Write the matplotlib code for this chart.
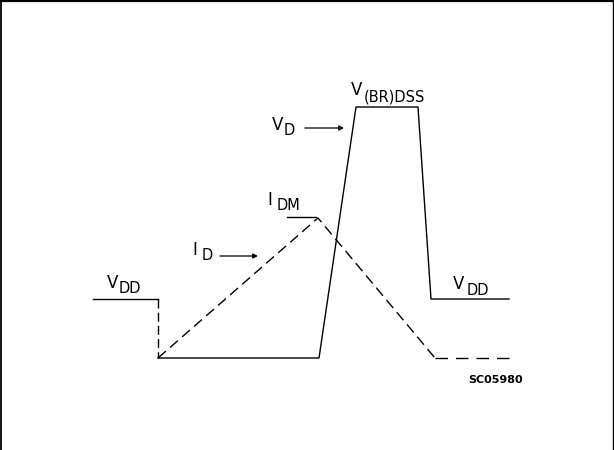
import matplotlib
matplotlib.use("Agg")
from matplotlib import pyplot as plt

# waveform corner points, in pixel units of the drawing (y grows downward)
vd_pre_x = [93, 158]
vd_pre_y = [299, 299]
vd_drop_x = [158, 158]
vd_drop_y = [299, 358]
vd_x = [158, 319, 356, 418, 431, 509]
vd_y = [358, 358, 107, 107, 299, 299]

id_x = [158, 318, 435]
id_y = [358, 218, 358]
id_tail_x = [435, 509]
id_tail_y = [358, 358]

idm_x = [287, 316]
idm_y = [217, 217]

# label arrows (start x, end x, y)
arrow_vd = (305, 344, 128)
arrow_id = (220, 258, 256)

# labels: main letter, subscript, x, baseline y, subscript x, subscript baseline
labels = [
    ("V", "DD", 107, 288, 119, 293),
    ("I", "D", 192, 255, 202, 260),
    ("I", "DM", 267, 205, 277, 210),
    ("V", "D", 272, 130, 284, 135),
    ("V", "(BR)DSS", 351, 95, 364, 102),
    ("V", "DD", 453, 289, 467, 295),
]
code_text = "SC05980"

plt.rcParams['font.family'] = ['DejaVu Sans']

fig = plt.figure(figsize=(6.14, 4.5), dpi=100)
ax = fig.add_axes([0, 0, 1, 1])
ax.set_xlim(0, 614)
ax.set_ylim(450, 0)
ax.axis("off")

# frame (top, left, right)
ax.plot([0, 613], [1.2, 1.2], color="black", lw=1.6)
ax.plot([0.8, 0.8], [0, 450], color="black", lw=1.3)
ax.plot([612.5, 612.5], [0, 450], color="black", lw=1.0)

ax.plot(vd_pre_x, vd_pre_y, color="black", lw=1.0)
ax.plot(vd_drop_x, vd_drop_y, color="black", lw=1.0, dashes=(6.5, 3))
ax.plot(vd_x, vd_y, color="black", lw=1.0)
ax.plot(id_x, id_y, color="black", lw=1.0, dashes=(7.5, 4))
ax.plot(id_tail_x, id_tail_y, color="black", lw=1.0, dashes=(9, 5.75))
ax.plot(idm_x, idm_y, color="black", lw=1.0)

for x0, x1, y in [arrow_vd, arrow_id]:
    ax.annotate("", xy=(x1, y), xytext=(x0, y),
                arrowprops=dict(arrowstyle="-|>", color="black", lw=0.9,
                                mutation_scale=7, shrinkA=0, shrinkB=0))

for main, sub, x, y, sx, sy in labels:
    ax.text(x, y, main, fontsize=12, ha="left", va="baseline")
    ax.text(sx, sy, sub, fontsize=10.5, ha="left", va="baseline")

ax.text(468, 383, code_text, fontsize=8, fontweight="bold", ha="left", va="baseline")

fig.savefig("out.png", dpi=100)
